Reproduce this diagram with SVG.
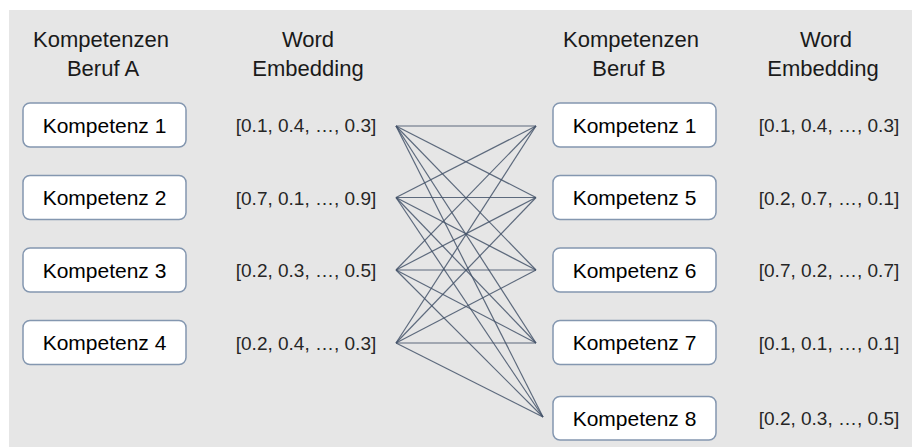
<svg xmlns="http://www.w3.org/2000/svg" width="912" height="447" viewBox="0 0 912 447">
<style>
.hd{font-family:"Liberation Sans",Arial,sans-serif;font-size:22px;fill:#1a1a1a;text-anchor:middle}
.bx{fill:#ffffff;stroke:#8497b0;stroke-width:1.5}
.bt{font-family:"Liberation Sans",Arial,sans-serif;font-size:21px;fill:#000;text-anchor:middle}
.em{font-family:"Liberation Sans",Arial,sans-serif;font-size:19px;fill:#262626;text-anchor:middle}
.cn line{stroke:#44546a;stroke-width:1.2;stroke-opacity:0.85}
</style>
<rect x="0" y="0" width="912" height="447" fill="#ffffff"/>
<rect x="9" y="10" width="903" height="437" fill="#e6e6e6"/>
<g id="headers">
<text class="hd" x="101" y="47">Kompetenzen</text>
<text class="hd" x="103" y="76">Beruf A</text>
<text class="hd" x="308" y="47">Word</text>
<text class="hd" x="308" y="76">Embedding</text>
<text class="hd" x="631" y="47">Kompetenzen</text>
<text class="hd" x="629" y="76">Beruf B</text>
<text class="hd" x="826" y="47">Word</text>
<text class="hd" x="823" y="76">Embedding</text>
</g>
<g id="connectors" class="cn">
<line x1="396" y1="126" x2="536" y2="126"/>
<line x1="396" y1="126" x2="536" y2="197.5"/>
<line x1="396" y1="126" x2="536" y2="270"/>
<line x1="396" y1="126" x2="536" y2="343"/>
<line x1="396" y1="126" x2="543" y2="417"/>
<line x1="396" y1="197.5" x2="536" y2="126"/>
<line x1="396" y1="197.5" x2="536" y2="197.5"/>
<line x1="396" y1="197.5" x2="536" y2="270"/>
<line x1="396" y1="197.5" x2="536" y2="343"/>
<line x1="396" y1="197.5" x2="543" y2="417"/>
<line x1="396" y1="270" x2="536" y2="126"/>
<line x1="396" y1="270" x2="536" y2="197.5"/>
<line x1="396" y1="270" x2="536" y2="270"/>
<line x1="396" y1="270" x2="536" y2="343"/>
<line x1="396" y1="270" x2="543" y2="417"/>
<line x1="396" y1="343" x2="536" y2="126"/>
<line x1="396" y1="343" x2="536" y2="197.5"/>
<line x1="396" y1="343" x2="536" y2="270"/>
<line x1="396" y1="343" x2="536" y2="343"/>
<line x1="396" y1="343" x2="543" y2="417"/>
</g>
<g id="a1"><rect class="bx" x="23" y="103" width="163" height="44" rx="7"/><text class="bt" x="104.5" y="132.5">Kompetenz 1</text><text class="em" x="306" y="132">[0.1, 0.4, …, 0.3]</text></g>
<g id="a2"><rect class="bx" x="23" y="175.5" width="163" height="44" rx="7"/><text class="bt" x="104.5" y="205">Kompetenz 2</text><text class="em" x="306" y="204.5">[0.7, 0.1, …, 0.9]</text></g>
<g id="a3"><rect class="bx" x="23" y="248" width="163" height="44" rx="7"/><text class="bt" x="104.5" y="277.5">Kompetenz 3</text><text class="em" x="306" y="277">[0.2, 0.3, …, 0.5]</text></g>
<g id="a4"><rect class="bx" x="23" y="320.5" width="163" height="44" rx="7"/><text class="bt" x="104.5" y="350">Kompetenz 4</text><text class="em" x="306" y="349.5">[0.2, 0.4, …, 0.3]</text></g>
<g id="b1"><rect class="bx" x="553" y="103" width="163" height="44" rx="7"/><text class="bt" x="634.5" y="132.5">Kompetenz 1</text><text class="em" x="829" y="132">[0.1, 0.4, …, 0.3]</text></g>
<g id="b5"><rect class="bx" x="553" y="175.5" width="163" height="44" rx="7"/><text class="bt" x="634.5" y="205">Kompetenz 5</text><text class="em" x="829" y="204.5">[0.2, 0.7, …, 0.1]</text></g>
<g id="b6"><rect class="bx" x="553" y="248" width="163" height="44" rx="7"/><text class="bt" x="634.5" y="277.5">Kompetenz 6</text><text class="em" x="829" y="277">[0.7, 0.2, …, 0.7]</text></g>
<g id="b7"><rect class="bx" x="553" y="320.5" width="163" height="44" rx="7"/><text class="bt" x="634.5" y="350">Kompetenz 7</text><text class="em" x="829" y="349.5">[0.1, 0.1, …, 0.1]</text></g>
<g id="b8"><rect class="bx" x="553" y="396.5" width="163" height="43.5" rx="7"/><text class="bt" x="634.5" y="425.5">Kompetenz 8</text><text class="em" x="829" y="425">[0.2, 0.3, …, 0.5]</text></g>
</svg>
